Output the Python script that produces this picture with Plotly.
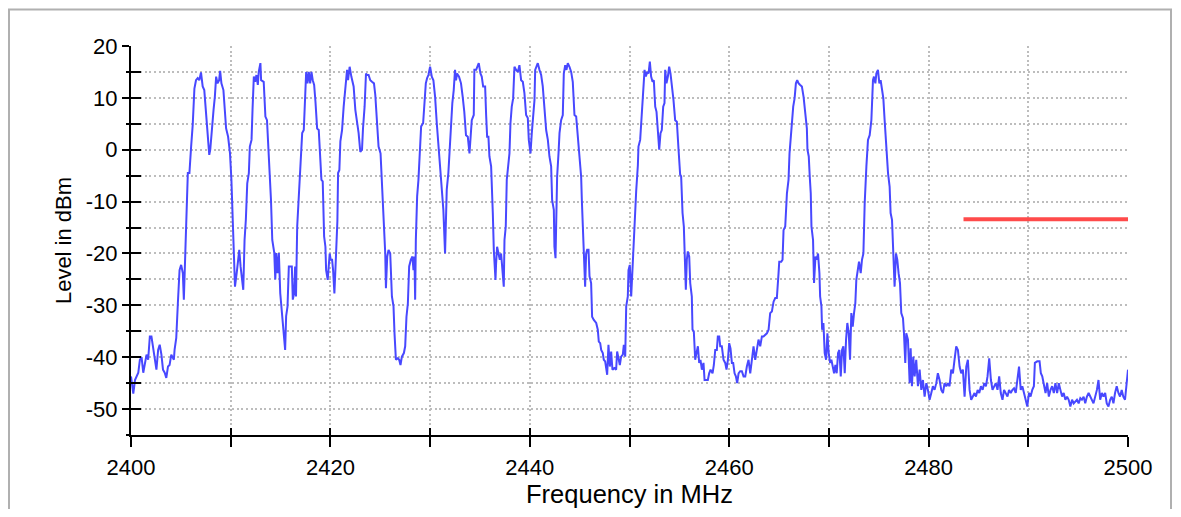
import plotly.graph_objects as go

# ---------------- data ----------------
freq_mhz = [
    2400.00, 2400.23, 2400.40, 2400.73, 2400.89, 2401.06, 2401.23, 2401.39, 2401.56, 2401.72,
    2401.89, 2402.05, 2402.22, 2402.38, 2402.55, 2402.72, 2402.88, 2403.05, 2403.21, 2403.38,
    2403.54, 2403.71, 2403.87, 2404.04, 2404.30, 2404.37, 2404.54, 2404.70, 2404.87, 2405.03,
    2405.20, 2405.30, 2405.43, 2405.53, 2405.70, 2405.86, 2406.03, 2406.19, 2406.36, 2406.52,
    2406.69, 2406.85, 2407.02, 2407.19, 2407.35, 2407.52, 2407.68, 2407.85, 2407.95, 2408.08,
    2408.28, 2408.41, 2408.54, 2408.68, 2408.84, 2408.94, 2409.07, 2409.27, 2409.40, 2409.54,
    2409.74, 2409.93, 2410.07, 2410.20, 2410.33, 2410.43, 2410.60, 2410.73, 2410.86, 2410.99,
    2411.16, 2411.26, 2411.39, 2411.52, 2411.66, 2411.82, 2411.92, 2412.09, 2412.19, 2412.32,
    2412.45, 2412.58, 2412.72, 2412.81, 2412.98, 2413.05, 2413.31, 2413.48, 2413.64, 2413.74,
    2413.87, 2414.04, 2414.17, 2414.37, 2414.47, 2414.57, 2414.70, 2414.83, 2414.97, 2415.13,
    2415.30, 2415.46, 2415.56, 2415.70, 2415.83, 2415.96, 2416.13, 2416.23, 2416.36, 2416.46,
    2416.55, 2416.67, 2416.83, 2417.00, 2417.17, 2417.33, 2417.43, 2417.57, 2417.70, 2417.83,
    2417.97, 2418.10, 2418.23, 2418.37, 2418.50, 2418.67, 2418.83, 2418.93, 2419.10, 2419.23,
    2419.37, 2419.50, 2419.57, 2419.73, 2419.83, 2419.93, 2420.03, 2420.17, 2420.27, 2420.40,
    2420.50, 2420.60, 2420.70, 2420.77, 2420.90, 2421.00, 2421.17, 2421.33, 2421.50, 2421.67,
    2421.77, 2421.93, 2422.10, 2422.33, 2422.50, 2422.67, 2422.83, 2423.00, 2423.17, 2423.27,
    2423.43, 2423.57, 2423.67, 2423.83, 2424.00, 2424.17, 2424.37, 2424.50, 2424.67, 2424.83,
    2425.03, 2425.17, 2425.33, 2425.50, 2425.57, 2425.70, 2425.83, 2426.00, 2426.17, 2426.33,
    2426.43, 2426.57, 2426.77, 2426.90, 2427.03, 2427.17, 2427.37, 2427.50, 2427.63, 2427.77,
    2427.90, 2428.07, 2428.23, 2428.33, 2428.43, 2428.50, 2428.57, 2428.70, 2428.83, 2428.93,
    2429.10, 2429.30, 2429.43, 2429.57, 2429.70, 2429.83, 2430.00, 2430.17, 2430.33, 2430.50,
    2430.67, 2430.83, 2431.00, 2431.17, 2431.33, 2431.50, 2431.67, 2431.83, 2431.93, 2432.10,
    2432.23, 2432.37, 2432.50, 2432.60, 2432.70, 2432.90, 2433.10, 2433.27, 2433.43, 2433.60,
    2433.78, 2433.95, 2434.05, 2434.18, 2434.38, 2434.44, 2434.62, 2434.78, 2434.88, 2435.05,
    2435.18, 2435.32, 2435.52, 2435.62, 2435.72, 2435.85, 2435.95, 2436.12, 2436.19, 2436.29,
    2436.39, 2436.45, 2436.56, 2436.62, 2436.72, 2436.86, 2436.99, 2437.12, 2437.26, 2437.39,
    2437.46, 2437.59, 2437.69, 2437.79, 2437.96, 2438.06, 2438.19, 2438.33, 2438.46, 2438.63,
    2438.80, 2438.96, 2439.13, 2439.30, 2439.46, 2439.63, 2439.80, 2439.90, 2440.07, 2440.20,
    2440.33, 2440.47, 2440.54, 2440.67, 2440.80, 2440.97, 2441.14, 2441.30, 2441.47, 2441.64,
    2441.81, 2441.97, 2442.14, 2442.24, 2442.41, 2442.47, 2442.58, 2442.68, 2442.74, 2442.88,
    2442.98, 2443.14, 2443.31, 2443.41, 2443.55, 2443.68, 2443.81, 2443.98, 2444.15, 2444.31,
    2444.48, 2444.65, 2444.82, 2444.98, 2445.15, 2445.22, 2445.35, 2445.48, 2445.55, 2445.65,
    2445.75, 2445.89, 2445.99, 2446.15, 2446.25, 2446.42, 2446.66, 2446.82, 2446.92, 2447.06,
    2447.16, 2447.32, 2447.42, 2447.56, 2447.66, 2447.76, 2447.89, 2448.03, 2448.16, 2448.29,
    2448.49, 2448.66, 2448.76, 2448.90, 2449.03, 2449.16, 2449.33, 2449.43, 2449.57, 2449.67,
    2449.83, 2449.90, 2450.03, 2450.17, 2450.27, 2450.37, 2450.50, 2450.67, 2450.84, 2450.90,
    2451.07, 2451.17, 2451.30, 2451.40, 2451.51, 2451.64, 2451.77, 2451.91, 2452.04, 2452.17,
    2452.31, 2452.44, 2452.58, 2452.71, 2452.84, 2452.98, 2453.11, 2453.24, 2453.38, 2453.51,
    2453.58, 2453.71, 2453.85, 2453.98, 2454.11, 2454.25, 2454.41, 2454.58, 2454.75, 2454.92,
    2455.08, 2455.18, 2455.32, 2455.45, 2455.59, 2455.65, 2455.75, 2455.85, 2455.99, 2456.09,
    2456.25, 2456.32, 2456.45, 2456.59, 2456.72, 2456.86, 2456.99, 2457.12, 2457.26, 2457.42,
    2457.53, 2457.66, 2457.86, 2457.99, 2458.13, 2458.33, 2458.46, 2458.60, 2458.76, 2458.86,
    2459.00, 2459.10, 2459.26, 2459.43, 2459.60, 2459.73, 2459.87, 2460.00, 2460.13, 2460.27,
    2460.40, 2460.54, 2460.67, 2460.80, 2460.94, 2461.10, 2461.27, 2461.44, 2461.61, 2461.77,
    2461.94, 2462.11, 2462.27, 2462.44, 2462.61, 2462.78, 2462.94, 2463.11, 2463.28, 2463.44,
    2463.61, 2463.78, 2463.95, 2464.11, 2464.28, 2464.45, 2464.62, 2464.78, 2464.95, 2465.02,
    2465.22, 2465.35, 2465.45, 2465.62, 2465.79, 2465.95, 2466.05, 2466.15, 2466.29, 2466.42,
    2466.56, 2466.69, 2466.82, 2466.96, 2467.12, 2467.29, 2467.46, 2467.63, 2467.79, 2467.85,
    2467.98, 2468.08, 2468.18, 2468.25, 2468.41, 2468.51, 2468.65, 2468.78, 2468.91, 2469.05,
    2469.12, 2469.25, 2469.32, 2469.45, 2469.58, 2469.72, 2469.85, 2469.98, 2470.12, 2470.25,
    2470.38, 2470.52, 2470.65, 2470.78, 2470.92, 2471.05, 2471.19, 2471.32, 2471.45, 2471.59,
    2471.72, 2471.85, 2471.99, 2472.12, 2472.25, 2472.39, 2472.52, 2472.65, 2472.75, 2472.92,
    2473.02, 2473.19, 2473.32, 2473.46, 2473.59, 2473.76, 2473.92, 2474.09, 2474.26, 2474.42,
    2474.52, 2474.66, 2474.76, 2474.92, 2475.06, 2475.19, 2475.33, 2475.46, 2475.59, 2475.76,
    2475.93, 2476.09, 2476.19, 2476.33, 2476.46, 2476.59, 2476.73, 2476.86, 2476.99, 2477.13,
    2477.26, 2477.43, 2477.53, 2477.66, 2477.76, 2477.93, 2478.10, 2478.20, 2478.33, 2478.46,
    2478.60, 2478.76, 2478.93, 2479.10, 2479.27, 2479.43, 2479.60, 2479.77, 2479.93, 2480.10,
    2480.27, 2480.43, 2480.60, 2480.77, 2480.93, 2481.10, 2481.27, 2481.44, 2481.60, 2481.77,
    2481.94, 2482.10, 2482.27, 2482.44, 2482.60, 2482.77, 2482.94, 2483.11, 2483.27, 2483.44,
    2483.61, 2483.78, 2483.94, 2484.11, 2484.27, 2484.44, 2484.61, 2484.75, 2484.92, 2485.08,
    2485.25, 2485.42, 2485.58, 2485.75, 2485.91, 2486.08, 2486.25, 2486.41, 2486.58, 2486.74,
    2486.91, 2487.08, 2487.24, 2487.41, 2487.57, 2487.74, 2487.91, 2488.07, 2488.24, 2488.41,
    2488.57, 2488.74, 2488.90, 2489.07, 2489.24, 2489.40, 2489.57, 2489.73, 2489.90, 2490.07,
    2490.23, 2490.40, 2490.56, 2490.66, 2490.90, 2491.13, 2491.26, 2491.40, 2491.56, 2491.73,
    2491.89, 2492.06, 2492.23, 2492.39, 2492.56, 2492.72, 2492.89, 2493.06, 2493.22, 2493.39,
    2493.55, 2493.72, 2493.89, 2494.05, 2494.22, 2494.39, 2494.55, 2494.72, 2494.88, 2495.05,
    2495.22, 2495.38, 2495.55, 2495.71, 2495.88, 2496.05, 2496.21, 2496.38, 2496.54, 2496.71,
    2496.88, 2497.04, 2497.21, 2497.38, 2497.54, 2497.71, 2497.87, 2498.04, 2498.21, 2498.37,
    2498.54, 2498.70, 2498.87, 2499.04, 2499.20, 2499.37, 2499.53, 2499.70, 2499.87, 2500.00,
]

level_dbm = [
    -43.7, -47.0, -44.4, -43.0, -40.5, -40.0, -43.0, -41.0, -39.5, -40.5,
    -36.0, -36.0, -38.3, -40.8, -42.4, -38.6, -37.6, -39.5, -42.4, -43.0,
    -44.0, -41.8, -41.5, -39.5, -40.5, -38.6, -36.3, -29.6, -23.2, -22.2,
    -23.8, -28.9, -22.5, -14.8, -4.5, -4.5, 0.6, 4.8, 11.8, 13.4,
    13.8, 13.4, 14.9, 12.2, 11.5, 7.3, 2.5, -1.0, 0.0, 3.8,
    7.7, 10.2, 14.1, 12.8, 13.4, 15.2, 12.8, 11.5, 8.0, 4.1,
    2.5, -0.7, -5.8, -14.8, -18.7, -26.4, -23.8, -21.2, -19.3, -22.5,
    -24.8, -27.0, -17.4, -13.5, -6.5, -4.5, 0.6, 1.9, 7.7, 14.1,
    13.1, 14.4, 12.5, 15.0, 16.7, 13.4, 13.1, 6.4, 5.7, 1.9,
    -3.3, -9.7, -17.4, -19.9, -25.0, -19.9, -23.8, -19.9, -27.7, -31.5,
    -35.4, -38.6, -32.1, -30.2, -22.5, -22.5, -22.5, -28.9, -27.7, -22.5,
    -28.3, -14.8, -9.7, -2.6, 3.2, 3.8, 8.3, 15.0, 12.8, 15.0,
    12.8, 15.0, 13.4, 12.5, 9.3, 4.1, 3.8, -0.7, -5.8, -6.1,
    -16.7, -18.7, -23.2, -25.1, -21.2, -20.0, -21.2, -21.2, -23.2, -27.7,
    -23.2, -17.4, -13.8, -4.5, -3.9, 1.6, 3.8, 8.3, 12.8, 15.4,
    13.4, 16.0, 14.1, 12.2, 7.7, 5.7, 3.2, -0.4, 0.0, 4.1,
    8.3, 14.7, 14.4, 14.4, 13.4, 13.1, 12.8, 10.6, 5.1, 0.6,
    -0.7, -6.5, -11.0, -20.0, -26.7, -20.6, -19.3, -20.0, -28.3, -30.2,
    -35.4, -40.5, -40.2, -40.5, -41.5, -39.9, -39.2, -37.9, -32.2, -29.6,
    -22.5, -21.2, -20.6, -23.2, -20.6, -28.9, -17.4, -9.0, -5.8, -0.7,
    4.5, 5.1, 10.2, 12.8, 13.8, 14.4, 16.0, 14.1, 13.4, 10.2,
    5.1, 0.6, -3.9, -7.1, -11.6, -20.0, -7.7, -4.5, -1.0, 4.1,
    9.0, 11.5, 15.4, 13.4, 14.7, 14.1, 12.8, 10.2, 7.3, 2.8,
    2.5, -0.7, 1.9, 5.7, 6.7, 15.4, 15.4, 16.3, 16.7, 14.7,
    14.1, 12.2, 12.2, 6.7, 2.5, 2.5, -1.3, -3.2, -9.0, -12.2,
    -19.3, -22.5, -25.1, -21.9, -18.7, -20.0, -21.2, -20.0, -23.2, -26.4,
    -17.4, -14.8, -5.8, -3.2, -0.7, 5.1, 8.3, 9.9, 16.0, 15.4,
    15.0, 16.3, 13.4, 13.1, 10.9, 6.7, 6.1, 1.9, -0.7, 3.2,
    5.7, 9.6, 15.4, 16.0, 16.7, 15.4, 14.4, 12.2, 7.0, 3.8,
    1.9, -1.3, -3.2, -9.7, -11.6, -18.7, -20.9, -11.6, -5.2, -0.7,
    3.2, 5.7, 6.7, 14.7, 16.3, 15.4, 16.7, 16.0, 15.0, 13.1,
    6.7, 6.4, 2.5, -1.3, -5.2, -9.7, -18.0, -21.9, -26.4, -20.0,
    -19.3, -19.3, -24.4, -25.7, -32.2, -32.8, -33.4, -34.7, -37.0, -37.3,
    -38.6, -39.2, -40.5, -40.8, -42.4, -43.4, -37.6, -41.8, -38.9, -42.4,
    -42.1, -42.4, -38.9, -40.5, -41.5, -39.9, -39.5, -37.6, -39.9, -30.2,
    -28.3, -23.2, -22.2, -28.3, -23.8, -21.2, -13.5, -8.0, -3.0, 0.6,
    1.9, 5.1, 9.6, 11.5, 15.4, 14.1, 15.0, 14.7, 17.0, 14.1,
    13.1, 13.4, 8.3, 7.3, 3.2, 0.0, 3.2, 3.8, 8.3, 9.0,
    15.4, 12.8, 14.1, 16.0, 14.7, 12.8, 9.6, 5.7, 5.4, 0.0,
    -4.8, -5.1, -12.2, -14.8, -23.2, -27.0, -21.2, -19.6, -20.6, -25.7,
    -28.3, -34.7, -35.0, -40.5, -39.2, -37.9, -41.1, -40.5, -42.4, -41.1,
    -44.4, -44.4, -44.4, -43.1, -42.4, -43.1, -41.5, -38.6, -38.6, -36.0,
    -36.0, -37.9, -37.9, -40.5, -41.1, -42.4, -40.5, -37.3, -38.3, -41.1,
    -41.1, -43.1, -43.7, -45.0, -43.1, -42.7, -42.7, -43.7, -43.7, -41.8,
    -40.5, -43.1, -40.5, -37.9, -40.5, -38.3, -36.6, -37.9, -36.0, -36.0,
    -35.7, -35.4, -34.7, -31.5, -31.2, -29.3, -28.6, -28.6, -23.8, -21.6,
    -21.6, -21.2, -15.5, -14.8, -8.4, -5.8, -0.7, 2.2, 5.4, 8.3,
    9.9, 12.8, 13.4, 12.8, 12.5, 12.2, 10.2, 7.0, 4.1, 0.0,
    -1.3, -5.2, -8.4, -14.8, -17.4, -25.7, -20.6, -21.2, -20.0, -23.8,
    -28.3, -30.2, -34.7, -33.4, -39.2, -40.5, -35.4, -39.2, -41.1, -40.5,
    -41.8, -43.1, -41.5, -43.1, -39.2, -38.6, -43.7, -38.6, -37.9, -43.1,
    -36.6, -33.4, -35.4, -40.5, -31.5, -34.1, -31.5, -29.6, -25.1, -23.2,
    -21.6, -23.8, -21.2, -20.0, -10.3, -3.2, 1.9, 2.8, 5.7, 13.4,
    14.1, 12.8, 14.7, 15.4, 12.8, 13.4, 11.5, 9.9, 5.7, 0.0,
    -4.5, -7.1, -12.2, -13.5, -22.5, -26.4, -20.0, -21.2, -23.8, -25.7,
    -31.5, -32.5, -35.4, -41.1, -35.4, -36.6, -45.0, -38.3, -45.6, -39.9,
    -43.7, -40.5, -45.6, -42.4, -46.3, -44.4, -47.6, -45.0, -46.3, -48.2,
    -46.9, -45.6, -46.3, -45.0, -43.1, -44.4, -46.3, -46.9, -45.0, -45.6,
    -45.0, -45.6, -42.4, -43.1, -40.5, -37.9, -38.6, -41.8, -43.1, -42.4,
    -47.6, -41.8, -40.5, -46.3, -48.2, -47.6, -46.9, -47.6, -46.3, -46.9,
    -45.6, -46.3, -45.0, -45.6, -43.7, -40.2, -44.4, -46.3, -45.6, -45.0,
    -46.3, -43.7, -46.9, -48.2, -46.3, -46.9, -47.6, -46.3, -46.9, -46.3,
    -46.0, -46.9, -44.4, -41.8, -46.3, -45.6, -46.9, -48.2, -49.5, -46.9,
    -47.6, -46.3, -45.6, -41.1, -40.8, -40.8, -43.1, -43.7, -45.6, -46.9,
    -45.0, -47.6, -46.3, -45.6, -46.9, -45.0, -46.9, -45.0, -46.3, -47.6,
    -46.9, -48.2, -47.6, -48.2, -49.5, -48.2, -48.9, -48.5, -48.2, -48.9,
    -47.9, -48.2, -47.6, -48.9, -47.6, -46.9, -47.6, -48.2, -48.9, -47.6,
    -46.3, -44.4, -48.2, -46.9, -47.6, -46.9, -48.9, -49.5, -48.2, -47.6,
    -48.9, -46.9, -45.6, -46.9, -47.6, -46.3, -47.6, -48.2, -44.4, -42.4,
]

limit_freq_mhz = [2483.5, 2500.0]
limit_level_dbm = [-13.4, -13.4]

x_tick_vals = [2400, 2410, 2420, 2430, 2440, 2450, 2460, 2470, 2480, 2490, 2500]
x_tick_text = ["2400", "", "2420", "", "2440", "", "2460", "", "2480", "", "2500"]
y_tick_vals = [-50, -40, -30, -20, -10, 0, 10, 20]
y_tick_text = ["-50", "-40", "-30", "-20", "-10", "0", "10", "20"]

x_range = [2400, 2500]
y_range = [-55, 20]

# ---------------- figure ----------------
FONT = "Liberation Sans, Arial, sans-serif"
GRID = "#bdbdbd"
DOTS = "2px,2.6px"

fig = go.Figure()

fig.add_trace(go.Scatter(
    x=freq_mhz, y=level_dbm, mode="lines",
    line=dict(color="#4848ff", width=2),
    hoverinfo="skip", showlegend=False,
))

fig.add_trace(go.Scatter(
    x=limit_freq_mhz, y=limit_level_dbm, mode="lines",
    line=dict(color="#ff4a4a", width=4),
    xaxis="x2", yaxis="y2", hoverinfo="skip", showlegend=False,
))

# the page body keeps an 8px margin, so the figure is sized to fit inside it
W, H = 1165, 501
L, R, T, B = 123, 45, 38, 74
pw, ph = W - L - R, H - T - B


def px_x(px):
    return (px - L) / pw


def px_y(py):
    return (H - B - py) / ph


fig.update_layout(
    width=W, height=H, autosize=False,
    margin=dict(l=L, r=R, t=T, b=B, pad=0, autoexpand=False),
    paper_bgcolor="white", plot_bgcolor="white",
    font=dict(family=FONT, color="black", size=20),
    xaxis=dict(
        range=x_range, tickmode="array", tickvals=x_tick_vals, ticktext=x_tick_text,
        ticks="outside", ticklen=10, tickwidth=2, tickcolor="black",
        showline=True, linecolor="black", linewidth=2,
        showgrid=True, gridcolor=GRID, gridwidth=1.5, griddash=DOTS,
        zeroline=False, tickfont=dict(size=22), ticklabelstandoff=2,
        automargin=False,
        title=dict(text="Frequency in MHz", font=dict(size=25.5), standoff=3),
    ),
    yaxis=dict(
        range=y_range, tickmode="array", tickvals=y_tick_vals, ticktext=y_tick_text,
        ticks="outside", ticklen=7, tickwidth=2, tickcolor="black",
        showline=True, linecolor="black", linewidth=2,
        showgrid=True, gridcolor=GRID, gridwidth=1.5, griddash=DOTS,
        zeroline=False, tickfont=dict(size=22), ticklabelstandoff=0,
        automargin=False,
        minor=dict(dtick=5, tick0=0, ticks="outside", ticklen=3, tickwidth=2,
                   tickcolor="black", showgrid=True, gridcolor=GRID,
                   gridwidth=1.5, griddash=DOTS),
        title=dict(text="Level in dBm", font=dict(size=22), standoff=8),
    ),
    xaxis2=dict(
        range=x_range, overlaying="x", anchor="y", side="bottom",
        tickmode="array", tickvals=x_tick_vals, automargin=False,
        ticks="inside", ticklen=7, tickwidth=2, tickcolor="black",
        showticklabels=False, showgrid=False, zeroline=False, showline=False,
    ),
    yaxis2=dict(
        range=y_range, overlaying="y", anchor="x", side="left",
        tickmode="array", tickvals=y_tick_vals, automargin=False,
        ticks="inside", ticklen=10, tickwidth=2, tickcolor="black",
        showticklabels=False, showgrid=False, zeroline=False, showline=False,
        minor=dict(dtick=5, tick0=0, ticks="inside", ticklen=10, tickwidth=2,
                   tickcolor="black", showgrid=False),
    ),
    shapes=[dict(
        type="rect", xref="paper", yref="paper",
        x0=px_x(1), x1=px_x(1163), y0=px_y(530), y1=px_y(1.5),
        line=dict(color="#b0b0b0", width=2), fillcolor="rgba(0,0,0,0)",
    )],
)

fig.write_html("out.html")
